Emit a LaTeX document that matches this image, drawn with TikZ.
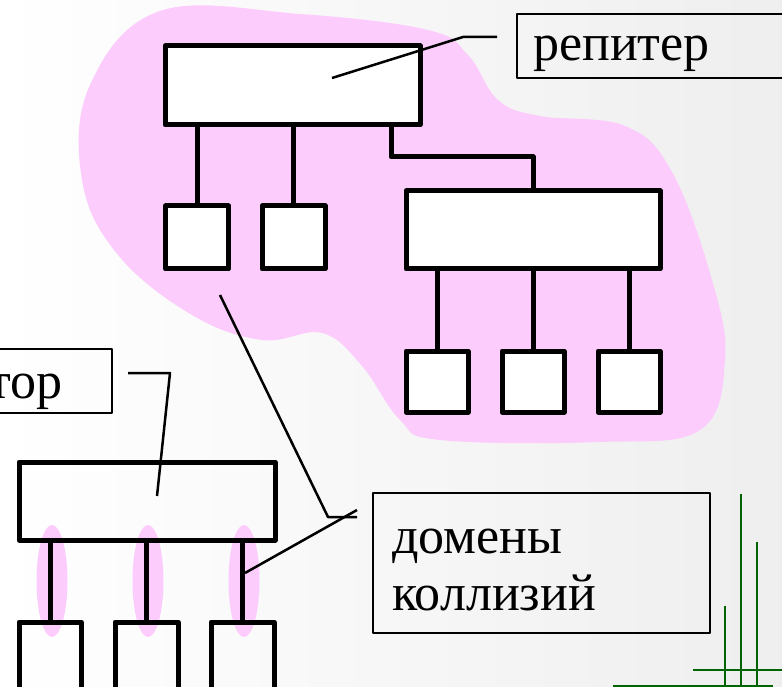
\documentclass[tikz,border=0pt]{standalone}
\usepackage{fontspec}
\setmainfont{Liberation Serif}
\usetikzlibrary{shapes.geometric}
\definecolor{blob}{RGB}{252, 204, 252}
\definecolor{leaf}{RGB}{0, 100, 0}
\def\bigfont{\fontsize{52}{57}\selectfont}
\tikzset{
    dev/.style={draw, line width=5pt, inner sep=0pt, outer sep=0pt},
    hub/.style={dev, fill=white, minimum width=255, minimum height=79},
    pc/.style={dev, fill=white, minimum width=63, minimum height=63},
    wire/.style={line width=5pt, line cap=butt},
    tagbox/.style={draw, line width=1.8pt, inner sep=0pt, minimum height=64},
    lbl/.style={font=\bigfont, inner sep=0pt},
    leader/.style={line width=2.5pt},
    halo/.style={ellipse, fill=blob, inner sep=0pt, minimum width=31, minimum height=112}
}

\begin{document}
\begin{tikzpicture}[x=1pt, y=-1pt, line join=round]

                 \useasboundingbox (0, 0) rectangle (782, 687);
                 \clip (0, 0) rectangle (782, 687);
                 \shade[left color=white, right color=gray!13] (0, 0) rectangle (782, 687);

                 \fill[blob] plot[smooth cycle, tension=0.65] coordinates {
                     (160, 11) (300, 14) (428, 30) (468, 55) (498, 100) (540, 116)
                     (625, 126) (672, 172) (712, 280) (725, 360) (700, 430) (600, 442)
                     (440, 440) (400, 420) (362, 366) (322, 333) (262, 340) (192, 315)
                     (118, 255) (82, 180) (90, 85)};

                 \node[hub] (rep) at (292.5, 85.5) {};
                 \node[pc] (pc1) at (197, 237.5) {};
                 \node[pc] (pc2) at (293.5, 237.5) {};
                 \node[hub, minimum width=254, minimum height=78] (hub2) at (533, 230) {};
                 \node[pc, minimum width=62, minimum height=61] (pc3) at (437, 381.5) {};
                 \node[pc, minimum width=62, minimum height=61] (pc4) at (533, 381.5) {};
                 \node[pc, minimum width=62, minimum height=61] (pc5) at (629, 381.5) {};

                 \draw[wire] (pc1.north) -- (pc1.north |- rep.south);
                 \draw[wire] (pc2.north) -- (pc2.north |- rep.south);
                 \coordinate (uplink) at (391, 157);
                 \draw[wire] (uplink |- rep.south) -- (uplink) -- (uplink -| hub2.north) -- (hub2.north);
                 \draw[wire] (pc3.north) -- (pc3.north |- hub2.south);
                 \draw[wire] (pc4.north) -- (pc4.north |- hub2.south);
                 \draw[wire] (pc5.north) -- (pc5.north |- hub2.south);

                 \node[halo] (c1) at (52, 581) {};
                 \node[halo] (c2) at (148, 581) {};
                 \node[halo] (c3) at (244, 581) {};

                 \node[dev, minimum width=256, minimum height=78] (sw) at (147, 501) {};
                 \node[dev, minimum width=62, minimum height=70] (pc6) at (50, 657) {};
                 \node[dev, minimum width=63, minimum height=70] (pc7) at (146.5, 657) {};
                 \node[dev, minimum width=63, minimum height=70] (pc8) at (242.5, 657) {};

                 \draw[wire] (pc6.north) -- (pc6.north |- sw.south);
                 \draw[wire] (pc7.north) -- (pc7.north |- sw.south);
                 \draw[wire] (pc8.north) -- (pc8.north |- sw.south);

                 \node[tagbox, minimum width=283] (rtag) at (658.5, 46) {};
                 \node[lbl, anchor=base west] (rtext) at (533, 61) {репитер};
                 \node[tagbox, minimum width=172] (stag) at (26, 381) {};
                 \node[lbl, anchor=base east] (stext) at (63, 398) {тор};
                 \node[tagbox, minimum width=337, minimum height=140] (dtag) at (541.5, 563) {};
                 \node[lbl, anchor=base west] (dtext1) at (392, 553) {домены};
                 \node[lbl, anchor=base west] (dtext2) at (392, 610) {коллизий};

                 \coordinate (rstart) at (497, 37);
                 \coordinate (rknee) at (463, 37);
                 \coordinate (rtip) at (332, 78);
                 \draw[leader] (rstart) -- (rknee) -- (rtip);

                 \coordinate (sstart) at (128, 373);
                 \coordinate (sknee) at (170, 373);
                 \coordinate (stip) at (157, 496);
                 \draw[leader] (sstart) -- (sknee) -- (stip);

                 \coordinate (dtip1) at (220, 295);
                 \coordinate (dknee) at (328, 517);
                 \coordinate (dstart) at (357, 517);
                 \coordinate (dstart2) at (357, 510);
                 \coordinate (dtip2) at (245, 573);
                 \draw[leader] (dtip1) -- (dknee) -- (dstart);
                 \draw[leader] (dstart2) -- (dtip2);

                 \draw[leaf, line width=2pt] (741, 494) -- (741, 690);
                 \draw[leaf, line width=2pt] (757, 542) -- (757, 690);
                 \draw[leaf, line width=2pt] (725, 606) -- (725, 690);
                 \draw[leaf, line width=2pt] (693, 670) -- (785, 670);
                 \draw[leaf, line width=2pt] (613, 686) -- (773, 686);

             \end{tikzpicture}
\end{document}
